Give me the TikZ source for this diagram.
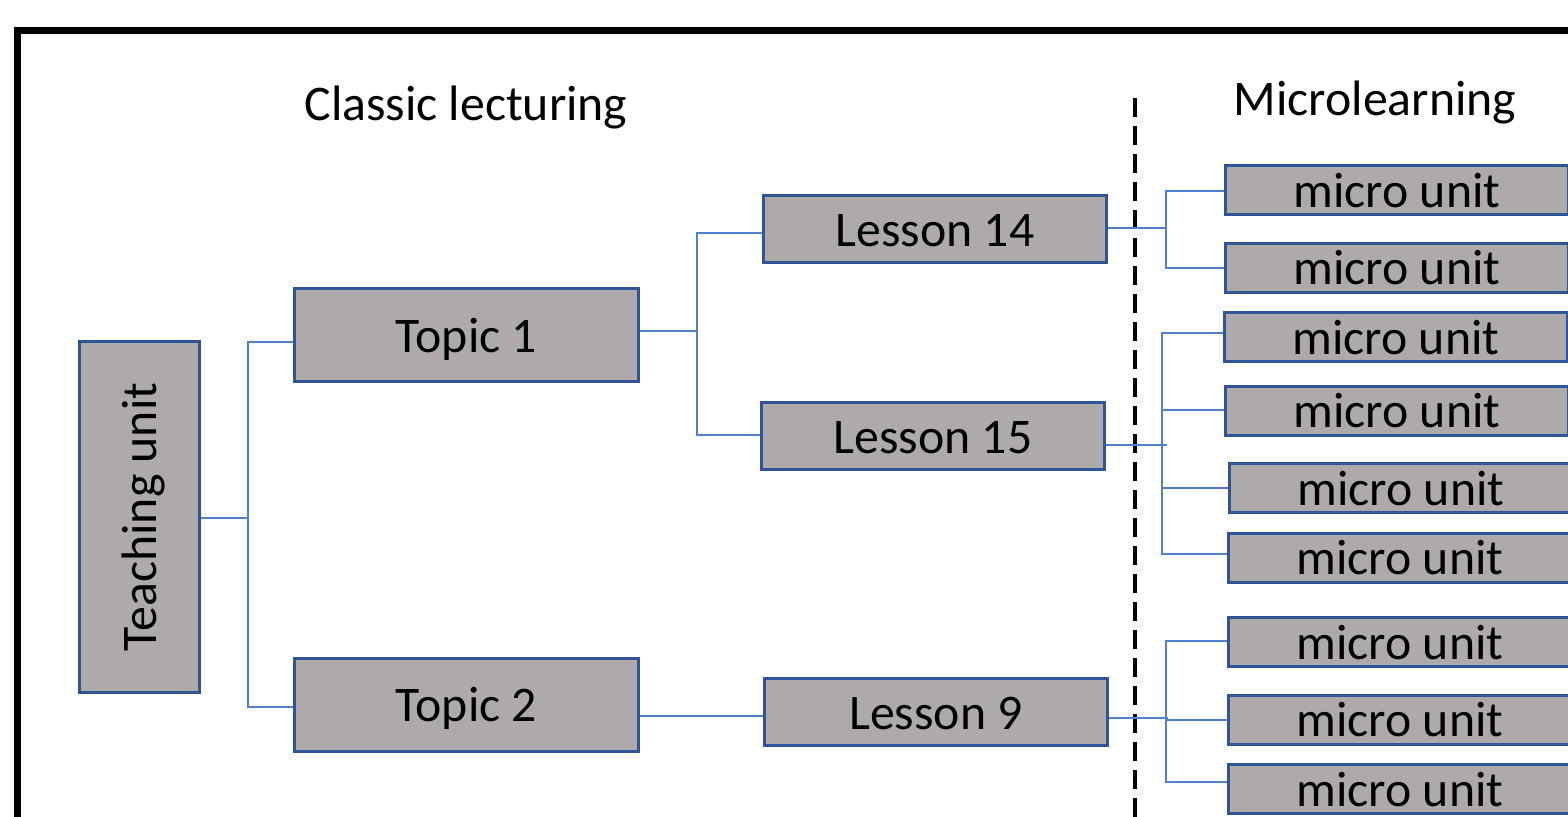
\documentclass[tikz,border=0pt]{standalone}
\usepackage{fontspec}
\setmainfont{Carlito}
\usetikzlibrary{calc}
\definecolor{boxfill}{HTML}{AEAAAA}
\definecolor{boxline}{HTML}{2F5597}
\definecolor{connline}{HTML}{5080CC}
\tikzset{
  box/.style={draw=boxline, line width=1.5pt, fill=boxfill, inner sep=0pt,
    text height=17pt, text depth=0pt, font=\fontsize{24.9}{29}\selectfont},
  topicbox/.style={box, minimum width=172pt, minimum height=46.5pt},
  lessonbox/.style={box, minimum width=171.5pt, minimum height=33.5pt},
  microbox/.style={box, minimum width=171.5pt, minimum height=24.5pt},
  conn/.style={draw=connline, line width=0.75pt},
  header/.style={anchor=base, inner sep=0pt, font=\fontsize{24.9}{29}\selectfont},
}
\begin{document}
\begin{tikzpicture}[x=0.5pt, y=-0.5pt]
\useasboundingbox (0,0) rectangle (1568,816);
\clip (0,0) rectangle (1568,816);
\fill[white] (0,0) rectangle (1568,816);
% frame
\coordinate (f1) at (17.5,860);
\coordinate (f2) at (17.5,30.5);
\coordinate (f3) at (1640,30.5);
\draw[line width=3.5pt] (f1) -- (f2) -- (f3);
% headers
\node[header] (hc) at (466,120) {Classic lecturing};
\node[header] (hm) at (1375,115) {Microlearning};
% divider
\coordinate (d1) at (1135,98);
\coordinate (d2) at (1135,840);
\draw[line width=1.6pt, dash pattern=on 9.5pt off 4.5pt] (d1) -- (d2);
% nodes
\node[box, rotate=90, minimum width=175.5pt, minimum height=60pt] (TU) at (139.5,517) {Teaching unit};
\node[topicbox] (T1) at (466.5,335) {Topic 1};
\node[topicbox] (T2) at (466.5,704.5) {Topic 2};
\node[lessonbox] (L14) at (935,229) {Lesson 14};
\node[lessonbox] (L15) at (933,436) {Lesson 15};
\node[lessonbox] (L9) at (936,712) {Lesson 9};
\node[microbox] (M1) at (1397,190) {micro unit};
\node[microbox] (M2) at (1397,267.5) {micro unit};
\node[microbox] (M3) at (1396,337) {micro unit};
\node[microbox] (M4) at (1397,410.5) {micro unit};
\node[microbox] (M5) at (1401,488) {micro unit};
\node[microbox] (M6) at (1400,557.5) {micro unit};
\node[microbox] (M7) at (1400,642) {micro unit};
\node[microbox] (M8) at (1400,719.5) {micro unit};
\node[microbox] (M9) at (1400,789) {micro unit};
% connectors: teaching unit -> topics
\coordinate (j1) at (248,518);
\coordinate (b1) at (248,342);
\coordinate (b2) at (248,707);
\draw[conn] (TU.south |- j1) -- (j1);
\draw[conn] (T1.west |- b1) -- (b1) -- (b2) -- (T2.west |- b2);
% topic 1 -> lessons
\coordinate (j2) at (697,331);
\coordinate (b3) at (697,233);
\coordinate (b4) at (697,435);
\draw[conn] (T1.east |- j2) -- (j2);
\draw[conn] (L14.west |- b3) -- (b3) -- (b4) -- (L15.west |- b4);
% topic 2 -> lesson 9
\coordinate (h9) at (700,716);
\draw[conn] (T2.east |- h9) -- (L9.west |- h9);
% lesson 14 -> micro units
\coordinate (j3) at (1166,228);
\coordinate (b5) at (1166,191);
\coordinate (b6) at (1166,268);
\draw[conn] (L14.east |- j3) -- (j3);
\draw[conn] (M1.west |- b5) -- (b5) -- (b6) -- (M2.west |- b6);
% lesson 15 -> micro units
\coordinate (j4) at (1167,445);
\coordinate (b7) at (1162,333);
\coordinate (b8) at (1162,410);
\coordinate (b9) at (1162,488);
\coordinate (b10) at (1162,554);
\draw[conn] (L15.east |- j4) -- (j4);
\draw[conn] (M3.west |- b7) -- (b7) -- (b10) -- (M6.west |- b10);
\draw[conn] (b8) -- (M4.west |- b8);
\draw[conn] (b9) -- (M5.west |- b9);
% lesson 9 -> micro units
\coordinate (j5) at (1168,718);
\coordinate (b11) at (1166,641);
\coordinate (b12) at (1166,720);
\coordinate (b13) at (1166,782);
\draw[conn] (L9.east |- j5) -- (j5);
\draw[conn] (M7.west |- b11) -- (b11) -- (b13) -- (M9.west |- b13);
\draw[conn] (b12) -- (M8.west |- b12);
\end{tikzpicture}
\end{document}
